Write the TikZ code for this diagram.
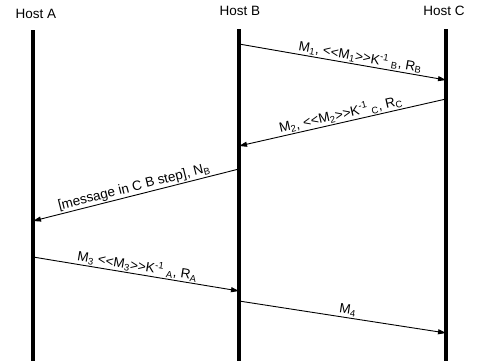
\documentclass[tikz,border=0pt]{standalone}
\usepackage{fontspec}
\setmainfont{Liberation Sans}
\usetikzlibrary{arrows.meta}
\begin{document}
\begin{tikzpicture}[x=1pt,y=-1pt,
  life/.style={line width=3.2pt},
  msg/.style={line width=0.9pt,-{Triangle[length=8pt,width=5pt]}},
  host/.style={font=\fontsize{13.5}{15}\selectfont},
  lbl/.style={font=\fontsize{13.5}{15}\selectfont,sloped,above,inner sep=1pt}]
\useasboundingbox (0,0) rectangle (477,364);
\node[host] (ha) at (36,14) {Host A};
\node[host] (hb) at (240,11) {Host B};
\node[host] (hc) at (444,11) {Host C};
\coordinate (a0) at (33,30); \coordinate (a1) at (33,361);
\coordinate (b0) at (239,29); \coordinate (b1) at (239,361);
\coordinate (c0) at (446,29); \coordinate (c1) at (446,361);
\draw[life] (a0) -- (a1);
\draw[life] (b0) -- (b1);
\draw[life] (c0) -- (c1);
\coordinate (m1s) at (239,44); \coordinate (m1e) at (446,80);
\coordinate (m2s) at (446,99); \coordinate (m2e) at (239,146);
\coordinate (m3s) at (239,169); \coordinate (m3e) at (33,221);
\coordinate (m4s) at (33,257); \coordinate (m4e) at (239,291);
\coordinate (m5s) at (239,301); \coordinate (m5e) at (446,333);
\draw[msg] (m1s) -- node[lbl,pos=0.58] {M\textsubscript{1}, <{}<M\textsubscript{1}>{}>K\textsuperscript{-1}\textsubscript{\,\,B}, R\textsubscript{B}} (m1e);
\draw[msg] (m2s) -- node[lbl,pos=0.5] {M\textsubscript{2}, <{}<M\textsubscript{2}>{}>K\textsuperscript{-1}\textsubscript{\,\,C}, R\textsubscript{C}} (m2e);
\draw[msg] (m3s) -- node[lbl,pos=0.5] {[message in C B step], N\textsubscript{B}} (m3e);
\draw[msg] (m4s) -- node[lbl,pos=0.5] {M\textsubscript{3} <{}<M\textsubscript{3}>{}>K\textsuperscript{-1}\textsubscript{\,\,A}, R\textsubscript{A}} (m4e);
\draw[msg] (m5s) -- node[lbl,pos=0.52] {M\textsubscript{4}} (m5e);
\end{tikzpicture}
\end{document}
